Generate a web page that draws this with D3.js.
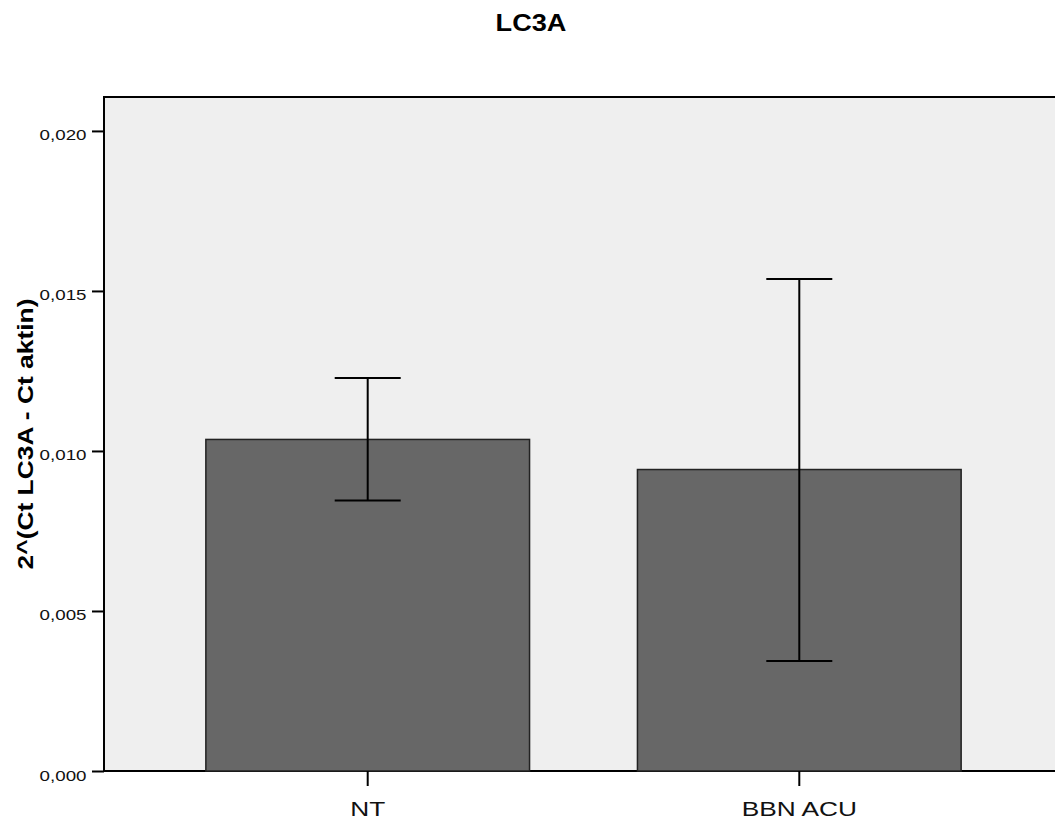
<!DOCTYPE html>
<html>
<head>
<meta charset="utf-8">
<script src="https://cdn.jsdelivr.net/npm/d3@7"></script>
<style>
  body { margin: 0; background: #fff; }
  svg { display: block; font-family: "Liberation Sans", Arial, sans-serif; }
</style>
</head>
<body>
<div class="chart"></div>
<script>
const categories = ['NT', 'BBN ACU']
const means = [0.01036, 0.00942]
const lower = [0.00845, 0.00344]
const upper = [0.01228, 0.01537]
const yTicks = [0, 0.005, 0.010, 0.015, 0.020]

// SETUP
const fullWidth = 1055
const fullHeight = 820
const margin = { top: 97, left: 104 }
const plotRight = 1063
const plotBottom = 771
// the reference text is drawn a bit wider than the font
const stretch = 1.25

const svg = d3.select('.chart')
  .append('svg')
    .attr('width', fullWidth)
    .attr('height', fullHeight)

// scales
const yScale = d3.scaleLinear()
  .domain([0, 0.02106])
  .range([plotBottom, margin.top])

const xScale = d3.scaleBand()
  .domain(categories)
  .range([margin.left, plotRight])
  .paddingInner(0.25)
  .paddingOuter(0.236)

// plot background
svg.append('rect')
  .attr('x', margin.left)
  .attr('y', margin.top)
  .attr('width', plotRight - margin.left)
  .attr('height', plotBottom - margin.top)
  .attr('fill', '#efefef')
  .attr('stroke', '#000')
  .attr('stroke-width', 2)

// bars
svg.selectAll('rect.bar')
  .data(categories)
  .enter()
  .append('rect')
    .attr('class', 'bar')
    .attr('x', d => xScale(d))
    .attr('y', (d, i) => yScale(means[i]))
    .attr('width', xScale.bandwidth())
    .attr('height', (d, i) => plotBottom - yScale(means[i]))
    .attr('fill', '#676767')
    .attr('stroke', '#222')
    .attr('stroke-width', 1.5)

// error bars
const capHalf = 33
const cx = d => xScale(d) + xScale.bandwidth() / 2
const err = svg.selectAll('g.err')
  .data(categories)
  .enter()
  .append('g')
    .attr('class', 'err')
    .attr('stroke', '#000')
    .attr('stroke-width', 2)
err.append('line')
  .attr('x1', cx)
  .attr('x2', cx)
  .attr('y1', (d, i) => yScale(lower[i]))
  .attr('y2', (d, i) => yScale(upper[i]))
err.append('line')
  .attr('x1', d => cx(d) - capHalf)
  .attr('x2', d => cx(d) + capHalf)
  .attr('y1', (d, i) => yScale(upper[i]))
  .attr('y2', (d, i) => yScale(upper[i]))
err.append('line')
  .attr('x1', d => cx(d) - capHalf)
  .attr('x2', d => cx(d) + capHalf)
  .attr('y1', (d, i) => yScale(lower[i]))
  .attr('y2', (d, i) => yScale(lower[i]))

// y axis
const fmt = v => d3.format('.3f')(v).replace('.', ',')
const yAxis = d3.axisLeft(yScale)
  .tickValues(yTicks)
  .tickFormat(fmt)
  .tickSize(12)
const gy = svg.append('g')
  .attr('transform', `translate(${margin.left}, 0)`)
  .call(yAxis)
gy.select('.domain').remove()
gy.selectAll('line').attr('stroke', '#000').attr('stroke-width', 2)
gy.selectAll('text')
  .attr('font-size', 15)
  .attr('fill', '#111')
  .attr('x', -17.5 / stretch)
  .attr('dy', 9)
  .attr('transform', `scale(${stretch},1)`)
  .style('font-family', '"Liberation Sans", Arial, sans-serif')

// x axis
const xAxis = d3.axisBottom(xScale)
  .tickSize(15)
const gx = svg.append('g')
  .attr('transform', `translate(0, ${plotBottom})`)
  .call(xAxis)
gx.select('.domain').remove()
gx.selectAll('line').attr('stroke', '#000').attr('stroke-width', 2)
gx.selectAll('text')
  .attr('font-size', 21)
  .attr('fill', '#111')
  .attr('y', 45)
  .attr('dy', 0)
  .attr('transform', `scale(${stretch},1)`)
  .style('font-family', '"Liberation Sans", Arial, sans-serif')

// title
svg.append('text')
  .attr('transform', `translate(531, 31) scale(1.18,1)`)
  .attr('text-anchor', 'middle')
  .attr('font-size', 23)
  .attr('font-weight', 'bold')
  .text('LC3A')

// y label
svg.append('text')
  .attr('transform', `translate(33, ${(plotBottom + margin.top) / 2}) rotate(-90) scale(1.2,1)`)
  .attr('text-anchor', 'middle')
  .attr('font-size', 22)
  .attr('font-weight', 'bold')
  .text('2^(Ct LC3A - Ct aktin)')
</script>
</body>
</html>
